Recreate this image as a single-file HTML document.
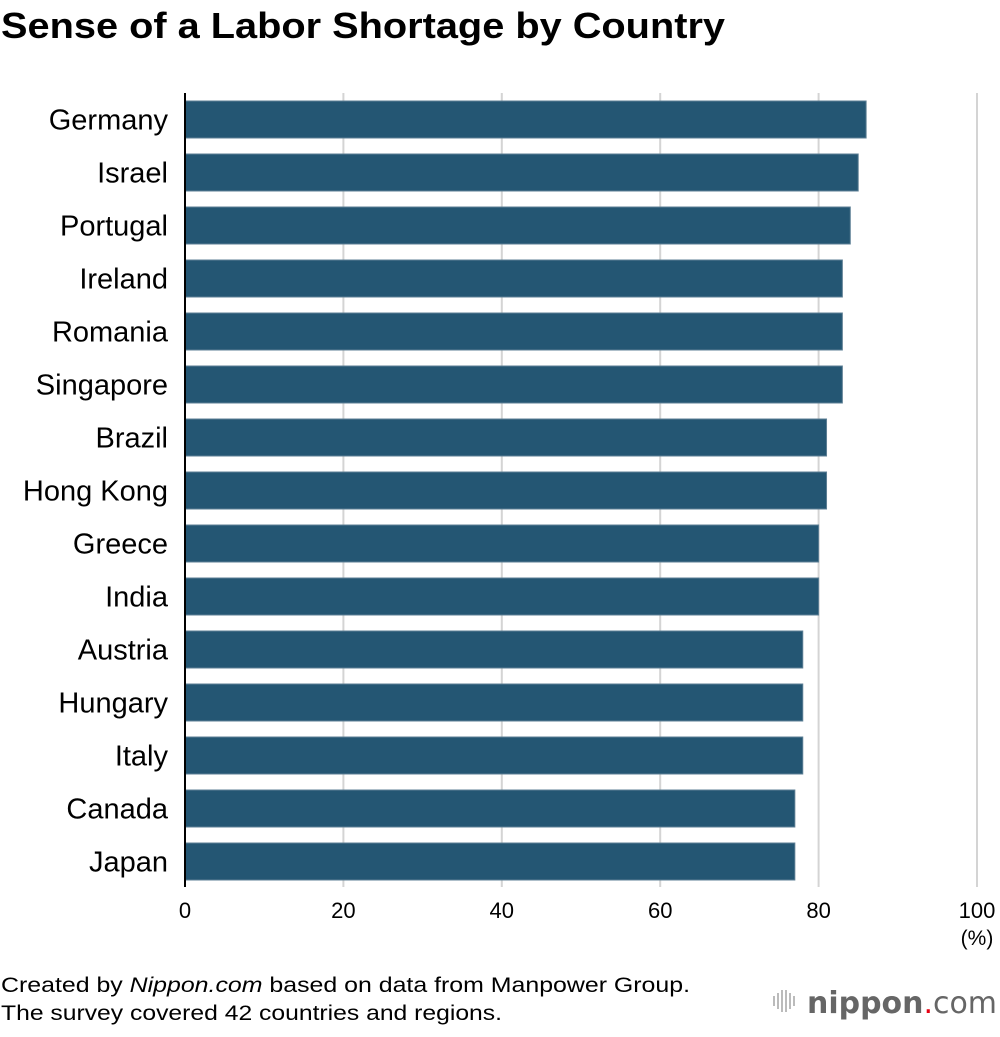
<!DOCTYPE html>
<html><head><meta charset="utf-8">
<style>
body{margin:0;background:#fff;width:1000px;height:1032px;overflow:hidden;font-family:"Liberation Sans",Arial,sans-serif;}
</style></head>
<body>
<svg id="chart" width="1000" height="1032" xmlns="http://www.w3.org/2000/svg">
<text x="1" y="38" font-size="36" font-weight="bold" fill="#000" textLength="724" lengthAdjust="spacingAndGlyphs">Sense of a Labor Shortage by Country</text>
<g id="grid"></g>
<g id="bars"></g>
<g id="labels"></g>
<g id="ticks"></g>
<line x1="185" y1="93" x2="185" y2="887" stroke="#000" stroke-width="2"/>
<text x="977" y="945" font-size="21" text-anchor="middle" fill="#000">(%)</text>
<text x="1" y="992" font-size="21" fill="#000" textLength="689" lengthAdjust="spacingAndGlyphs">Created by <tspan font-style="italic">Nippon.com</tspan> based on data from Manpower Group.</text>
<text x="1" y="1020" font-size="21" fill="#000" textLength="501" lengthAdjust="spacingAndGlyphs">The survey covered 42 countries and regions.</text>
<g>
<rect x="773" y="996" width="2" height="10" fill="#bbb"/>
<rect x="777" y="993" width="2" height="16" fill="#bbb"/>
<rect x="781" y="990" width="2" height="22" fill="#bbb"/>
<rect x="785" y="990" width="2" height="22" fill="#bbb"/>
<rect x="789" y="993" width="2" height="16" fill="#bbb"/>
<rect x="793" y="996" width="2" height="10" fill="#bbb"/>
<text x="807" y="1013" font-size="30" font-family="DejaVu Sans, sans-serif" fill="#666" textLength="190" lengthAdjust="spacingAndGlyphs"><tspan font-weight="bold">nippon</tspan><tspan fill="#e60012">.</tspan><tspan>com</tspan></text>
</g>
</svg>
<script>
const categories=["Germany","Israel","Portugal","Ireland","Romania","Singapore","Brazil","Hong Kong","Greece","India","Austria","Hungary","Italy","Canada","Japan"];
const values=[86,85,84,83,83,83,81,81,80,80,78,78,78,77,77];
const tickValues=[0,20,40,60,80,100];
const tickLabels=["0","20","40","60","80","100"];
const NS="http://www.w3.org/2000/svg";
const x0=185,pxPer=7.92,plotTop=93,pitch=53,barH=37;
const xs=v=>x0+v*pxPer;
const yc=i=>plotTop+26.5+i*pitch;
function mk(t,a,p){const e=document.createElementNS(NS,t);for(const k in a)e.setAttribute(k,a[k]);p.appendChild(e);return e;}
const g=document.getElementById('grid'),b=document.getElementById('bars'),l=document.getElementById('labels'),tk=document.getElementById('ticks');
tickValues.forEach((v,i)=>{
 if(v>0){const ln=mk('line',{x1:xs(v),x2:xs(v),y1:plotTop,y2:887,stroke:'#d4d4d4','stroke-width':2},g);
 
 }
 const t=mk('text',{x:xs(v),y:918,'font-size':22,'text-anchor':'middle',fill:'#000'},tk);
 t.textContent=tickLabels[i];
 
 
});
categories.forEach((c,i)=>{
 const r=mk('rect',{x:x0,y:yc(i)-barH/2,width:xs(values[i])-x0,height:barH,fill:'#245673',stroke:'#5d7f94','stroke-width':1},b);
 
 
 const t=mk('text',{x:168,y:yc(i)+10,'font-size':29,'text-anchor':'end',fill:'#000'},l);
 t.textContent=c;
 
 
});
</script>
</body></html>
